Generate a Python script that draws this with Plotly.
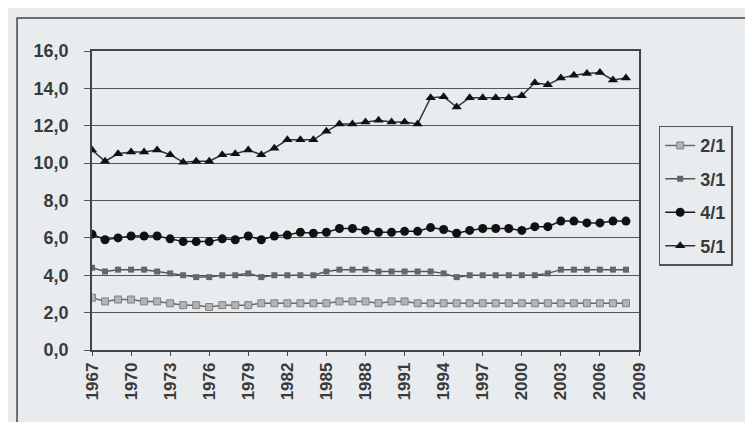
import plotly.graph_objects as go

years = list(range(1967, 2009))

s21 = [2.8, 2.6, 2.7, 2.7, 2.6, 2.6, 2.5, 2.4, 2.4, 2.3, 2.4, 2.4, 2.4, 2.5, 2.5,
       2.5, 2.5, 2.5, 2.5, 2.6, 2.6, 2.6, 2.5, 2.6, 2.6, 2.5, 2.5, 2.5, 2.5, 2.5,
       2.5, 2.5, 2.5, 2.5, 2.5, 2.5, 2.5, 2.5, 2.5, 2.5, 2.5, 2.5]
s31 = [4.4, 4.2, 4.3, 4.3, 4.3, 4.2, 4.1, 4.0, 3.9, 3.9, 4.0, 4.0, 4.1, 3.9, 4.0,
       4.0, 4.0, 4.0, 4.2, 4.3, 4.3, 4.3, 4.2, 4.2, 4.2, 4.2, 4.2, 4.1, 3.9, 4.0,
       4.0, 4.0, 4.0, 4.0, 4.0, 4.1, 4.3, 4.3, 4.3, 4.3, 4.3, 4.3]
s41 = [6.2, 5.9, 6.0, 6.1, 6.1, 6.1, 5.95, 5.8, 5.8, 5.8, 5.95, 5.9, 6.1, 5.9, 6.1,
       6.15, 6.3, 6.25, 6.3, 6.5, 6.5, 6.4, 6.3, 6.3, 6.35, 6.35, 6.55, 6.45, 6.25, 6.4,
       6.5, 6.5, 6.5, 6.4, 6.6, 6.6, 6.9, 6.9, 6.8, 6.8, 6.9, 6.9]
s51 = [10.7, 10.1, 10.5, 10.6, 10.6, 10.7, 10.45, 10.05, 10.1, 10.1, 10.45, 10.5, 10.7, 10.45, 10.8,
       11.25, 11.25, 11.25, 11.7, 12.1, 12.1, 12.2, 12.3, 12.2, 12.2, 12.1, 13.5, 13.55, 13.0, 13.5,
       13.5, 13.5, 13.5, 13.6, 14.3, 14.2, 14.55, 14.7, 14.8, 14.85, 14.45, 14.55]

names = ["2/1", "3/1", "4/1", "5/1"]
yticks = [0, 2, 4, 6, 8, 10, 12, 14, 16]
xticks = list(range(1967, 2010, 3))

styles = [
    dict(line=dict(color="#6a6a6a", width=1.5), marker=dict(symbol="square", size=7, color="#b4b4b4", line=dict(color="#808080", width=1))),
    dict(line=dict(color="#555555", width=1.5), marker=dict(symbol="square", size=6, color="#666666")),
    dict(line=dict(color="#1a1a1a", width=1.5), marker=dict(symbol="circle", size=9, color="#111111")),
    dict(line=dict(color="#333333", width=1.5), marker=dict(symbol="triangle-up", size=9, color="#111111")),
]

fig = go.Figure()
for i, (nm, vals) in enumerate(zip(names, [s21, s31, s41, s51])):
    fig.add_trace(go.Scatter(x=years, y=vals, name=nm, mode="lines+markers",
                             legendgroup=nm, **styles[i]))

fig.update_layout(
    width=753, height=422,
    margin=dict(l=84, r=122, t=43, b=80),
    paper_bgcolor="#e9ecef",
    plot_bgcolor="#e9ecef",
    font=dict(family="Liberation Sans, Arial, sans-serif", color="#3a3a3a"),
    showlegend=True,
    legend=dict(x=1.036, y=0.75, xanchor="left", yanchor="top",
                bordercolor="#555555", borderwidth=1.5, bgcolor="rgba(0,0,0,0)",
                font=dict(size=18, color="#3a3a3a", weight="bold"), tracegroupgap=7,
                itemwidth=30),
    xaxis=dict(range=[1967, 2009], tickmode="array", tickvals=xticks,
               ticktext=[str(t) for t in xticks], tickangle=-90,
               tickfont=dict(size=17, weight="bold"), showgrid=False, showline=True,
               linecolor="#444444", linewidth=1.5, mirror=True,
               ticks="outside", ticklen=4, tickcolor="#444444", zeroline=False),
    yaxis=dict(range=[0, 16], tickmode="array", tickvals=yticks,
               ticktext=[f"{t:.1f}".replace(".", ",") for t in yticks],
               tickfont=dict(size=18, weight="bold"), showgrid=True, gridcolor="#555555",
               gridwidth=1, showline=True, linecolor="#444444", linewidth=1.5,
               mirror=True, ticks="outside", ticklen=6, tickcolor="#555555",
               ticklabelstandoff=12, zeroline=False),
    shapes=[dict(type="rect", xref="paper", yref="paper",
                 x0=-0.137, x1=1.25, y0=-0.27, y1=1.11,
                 line=dict(color="#444444", width=1.5))],
)

fig.write_html("out.html")
